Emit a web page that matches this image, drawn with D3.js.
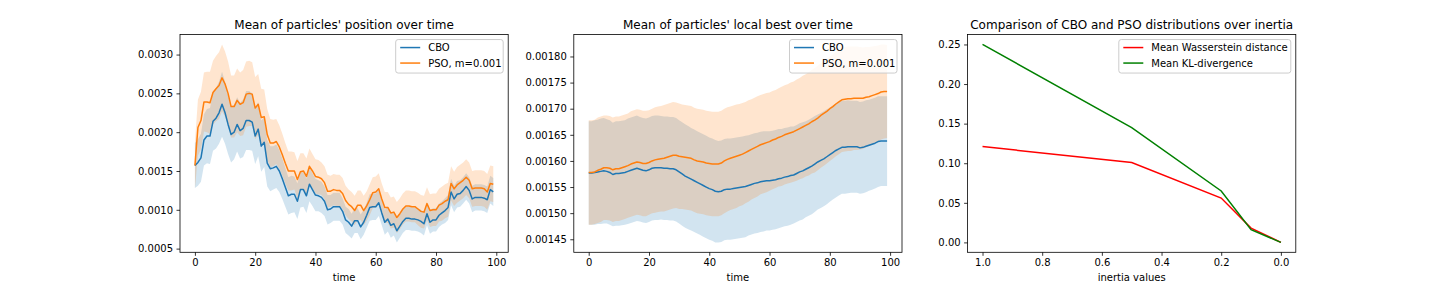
<!doctype html>
<html>
<head>
<meta charset="UTF-8">
<title>CBO vs PSO</title>
<script src="https://d3js.org/d3.v7.min.js"></script>
<style>
  body { margin: 0; background: #fff; }
  svg { display: block; font-family: "DejaVu Sans", sans-serif; }
</style>
</head>
<body>
<svg id="chart" width="1440" height="288"></svg>
<script>
// panel 1 values, in units of 1e-5
const posUnit = 1e-5;
const posCBO = [157,161,167,190,195,195,214,218,225,236,
  225,210,197,200,210,202,205,215,215,213,
  195,204,182,187,160,153,154,156,150,140,
  129,118,120,120,111,126,126,118,133,126,
  119,118,116,111,100,101,104,104,104,98,
  87,84,79,86,86,78,84,93,103,104,
  104,109,96,84,88,80,82,73,79,85,
  89,89,88,88,87,85,82,95,84,87,
  87,93,96,99,103,123,114,120,121,125,
  130,125,114,116,116,116,115,113,126,123];
const posPSO = [157,206,215,239,239,238,251,256,260,270,
  262,250,233,233,241,236,238,249,250,249,
  231,236,219,220,197,186,186,188,181,171,
  160,150,150,150,139,149,150,143,156,150,
  143,142,140,135,124,124,126,125,125,121,
  112,107,104,99,106,106,99,105,113,122,
  123,127,114,103,103,96,97,90,95,101,
  105,105,104,104,101,98,97,108,99,100,
  100,106,108,111,113,134,127,132,135,138,
  142,138,127,128,128,128,127,123,134,133];
const posCBOstd = [29,30,31,33,35,36,38,39,40,42,
  40,38,36,35,35,36,37,38,38,37,
  36,35,33,32,30,29,28,28,27,26,
  25,24,24,23,23,23,22,22,22,21,
  21,20,20,19,19,18,18,18,18,17,
  17,17,16,16,16,16,16,16,17,17,
  17,17,16,16,16,16,15,15,15,15,
  15,15,15,15,15,15,15,15,15,15,
  15,15,15,16,16,17,17,17,17,17,
  17,17,17,17,17,17,17,17,18,18];
const posPSOstd = [30,36,37,38,39,40,41,42,43,43,
  42,41,40,40,41,41,42,42,42,41,
  40,39,37,35,33,31,30,29,28,27,
  26,25,25,24,24,24,23,23,23,22,
  22,22,21,21,21,20,20,20,20,20,
  19,19,19,19,19,19,19,19,20,20,
  20,20,20,20,20,20,20,20,20,20,
  20,20,20,20,21,21,21,21,21,21,
  21,21,22,22,22,22,22,23,23,23,
  23,23,23,23,23,23,23,23,23,23];

// panel 2 values, in units of 1e-6
const bestUnit = 1e-6;
const bestCBO = [1577,1577,1578,1579,1580,1581,1580,1578,1574,1576,
  1576,1577,1578,1580,1582,1584,1586,1584,1582,1581,
  1583,1586,1587,1587,1587,1586,1586,1585,1585,1583,
  1579,1575,1571,1568,1565,1562,1559,1556,1553,1550,
  1547,1545,1542,1541,1542,1545,1546,1546,1547,1548,
  1549,1550,1551,1553,1555,1557,1558,1560,1561,1562,
  1562,1563,1564,1566,1567,1569,1570,1572,1573,1576,
  1579,1581,1584,1587,1590,1594,1598,1601,1604,1608,
  1612,1616,1620,1623,1626,1626,1627,1627,1627,1627,
  1625,1626,1628,1630,1632,1634,1637,1638,1638,1638];
const bestPSO = [1578,1578,1579,1582,1584,1587,1587,1586,1583,1585,
  1585,1587,1589,1591,1594,1596,1598,1597,1595,1595,
  1597,1600,1602,1603,1604,1605,1607,1609,1611,1611,
  1609,1608,1607,1606,1605,1602,1600,1599,1598,1596,
  1595,1594,1594,1594,1596,1600,1603,1605,1607,1609,
  1611,1613,1616,1619,1622,1625,1628,1631,1633,1635,
  1637,1640,1642,1645,1647,1650,1652,1654,1656,1659,
  1662,1665,1668,1671,1675,1678,1682,1687,1691,1695,
  1700,1704,1709,1713,1717,1718,1719,1719,1720,1720,
  1720,1720,1722,1723,1725,1727,1729,1732,1733,1733];
const bestCBOstd = [99,99,100,100,101,101,100,100,99,100,
  100,100,100,101,101,101,101,100,100,100,
  100,100,100,100,99,99,99,99,99,99,
  99,99,99,99,98,98,98,98,98,98,
  98,98,98,97,97,97,97,97,97,97,
  97,97,97,96,96,96,96,96,96,95,
  95,95,95,95,94,94,94,94,93,93,
  93,93,92,92,92,92,91,91,91,91,
  90,90,90,89,89,89,89,88,88,88,
  88,88,88,87,87,87,87,86,86,86];
const bestPSOstd = [100,100,100,101,101,100,100,100,100,100,
  100,100,100,100,101,101,101,101,101,101,
  100,100,101,101,101,102,102,102,102,101,
  101,100,100,100,100,100,100,100,100,100,
  100,100,100,100,100,100,100,99,99,99,
  98,98,97,97,96,96,96,95,95,95,
  94,94,94,94,95,95,95,96,96,97,
  97,98,98,99,99,100,100,100,100,100,
  100,100,100,100,100,100,100,100,99,99,
  98,97,96,95,94,93,92,91,90,89];

// panel 3
const inertia = [1.0, 0.5, 0.2, 0.1, 0.0];
const wasserstein = [0.121, 0.101, 0.056, 0.018, 0.0];
const klDiv = [0.250, 0.145, 0.065, 0.016, 0.0];

const titles = ["Mean of particles' position over time",
  "Mean of particles' local best over time",
  "Comparison of CBO and PSO distributions over inertia"];
const legendA = ["CBO", "PSO, m=0.001"];
const legendB = ["Mean Wasserstein distance", "Mean KL-divergence"];
const yTicks1 = [0.0005, 0.0010, 0.0015, 0.0020, 0.0025, 0.0030];
const yTicks2 = [0.00145, 0.00150, 0.00155, 0.00160, 0.00165, 0.00170, 0.00175, 0.00180];
const yTicks3 = [0.00, 0.05, 0.10, 0.15, 0.20, 0.25];
const xTicksTime = [0, 20, 40, 60, 80, 100];
const xTicksInertia = [1.0, 0.8, 0.6, 0.4, 0.2, 0.0];

const C0 = "#1f77b4", C1 = "#ff7f0e";
const svg = d3.select("#chart");
const axTop = 34.56, axBottom = 252.3, axW = 328.2;
const lefts = [180, 573.8, 967.6];

function pad(ext) {
  const d = (ext[1] - ext[0]) * 0.05;
  return [ext[0] - d, ext[1] + d];
}

function frame(i, x, y, xt, yt, xfmt, yfmt, xlabel) {
  const g = svg.append("g").attr("transform", `translate(${lefts[i]},0)`);
  const ax = g.append("g").attr("transform", `translate(0,${axBottom})`)
    .call(d3.axisBottom(x).tickValues(xt).tickFormat(xfmt).tickSizeOuter(0).tickSize(3.5).tickPadding(3.5));
  const ay = g.append("g")
    .call(d3.axisLeft(y).tickValues(yt).tickFormat(yfmt).tickSizeOuter(0).tickSize(3.5).tickPadding(3.5));
  [ax, ay].forEach(a => {
    a.select(".domain").remove();
    a.selectAll("line").attr("stroke", "#000").attr("stroke-width", 0.8);
    a.selectAll("text").attr("font-size", 10).attr("fill", "#000")
      .attr("font-family", "DejaVu Sans, sans-serif");
  });
  g.append("rect").attr("x", 0).attr("y", axTop).attr("width", axW).attr("height", axBottom - axTop)
    .attr("fill", "none").attr("stroke", "#000").attr("stroke-width", 0.8).attr("class", "spines");
  g.append("text").attr("x", axW / 2).attr("y", axTop - 6).attr("text-anchor", "middle")
    .attr("font-size", 12).text(titles[i]);
  g.append("text").attr("x", axW / 2).attr("y", 281).attr("text-anchor", "middle")
    .attr("font-size", 10).text(xlabel);
  return g;
}

function legend(g, labels, colors, boxW) {
  const lg = g.append("g").attr("transform", `translate(${axW - 5 - boxW},${axTop + 5})`);
  lg.append("rect").attr("width", boxW).attr("height", 33.5).attr("rx", 2.5)
    .attr("fill", "#fff").attr("fill-opacity", 0.8).attr("stroke", "#cccccc").attr("stroke-width", 1);
  labels.forEach((l, k) => {
    const yy = 8 + k * 15.5;
    lg.append("line").attr("x1", 4.5).attr("x2", 24.5).attr("y1", yy).attr("y2", yy)
      .attr("stroke", colors[k]).attr("stroke-width", 1.5);
    lg.append("text").attr("x", 32.5).attr("y", yy + 3.6).attr("font-size", 10).text(l);
  });
}

function timePanel(i, means, stds, unit, yt, yfmt) {
  const t = d3.range(means[0].length);
  const lo = means.map((m, s) => m.map((v, k) => (v - stds[s][k]) * unit));
  const hi = means.map((m, s) => m.map((v, k) => (v + stds[s][k]) * unit));
  const x = d3.scaleLinear().domain(pad(d3.extent(t))).range([0, axW]);
  const y = d3.scaleLinear().domain(pad([d3.min(lo.flat()), d3.max(hi.flat())])).range([axBottom, axTop]);
  const g = frame(i, x, y, xTicksTime, yt, d3.format("d"), yfmt, "time");
  const plot = g.insert("g", ".spines");
  const colors = [C0, C1];
  means.forEach((m, s) => {
    plot.append("path").datum(t)
      .attr("d", d3.area().x(k => x(k)).y0(k => y(lo[s][k])).y1(k => y(hi[s][k])))
      .attr("fill", colors[s]).attr("fill-opacity", 0.2);
  });
  means.forEach((m, s) => {
    plot.append("path").datum(t)
      .attr("d", d3.line().x(k => x(k)).y(k => y(m[k] * unit)))
      .attr("fill", "none").attr("stroke", colors[s]).attr("stroke-width", 1.5)
      .attr("stroke-linejoin", "round");
  });
  legend(g, legendA, colors, 107.5);
}

timePanel(0, [posCBO, posPSO], [posCBOstd, posPSOstd], posUnit, yTicks1, d3.format(".4f"));
timePanel(1, [bestCBO, bestPSO], [bestCBOstd, bestPSOstd], bestUnit, yTicks2, d3.format(".5f"));

// panel 3
{
  const x = d3.scaleLinear().domain(pad(d3.extent(inertia)).reverse()).range([0, axW]);
  const y = d3.scaleLinear().domain(pad([0, d3.max(klDiv.concat(wasserstein))])).range([axBottom, axTop]);
  const g = frame(2, x, y, xTicksInertia, yTicks3, d3.format(".1f"), d3.format(".2f"), "inertia values");
  const plot = g.insert("g", ".spines");
  [[wasserstein, "#ff0000"], [klDiv, "#008000"]].forEach(([vals, c]) => {
    plot.append("path").datum(inertia)
      .attr("d", d3.line().x(v => x(v)).y((v, k) => y(vals[k])))
      .attr("fill", "none").attr("stroke", c).attr("stroke-width", 1.5);
  });
  legend(g, legendB, ["#ff0000", "#008000"], 172);
}
</script>
</body>
</html>
